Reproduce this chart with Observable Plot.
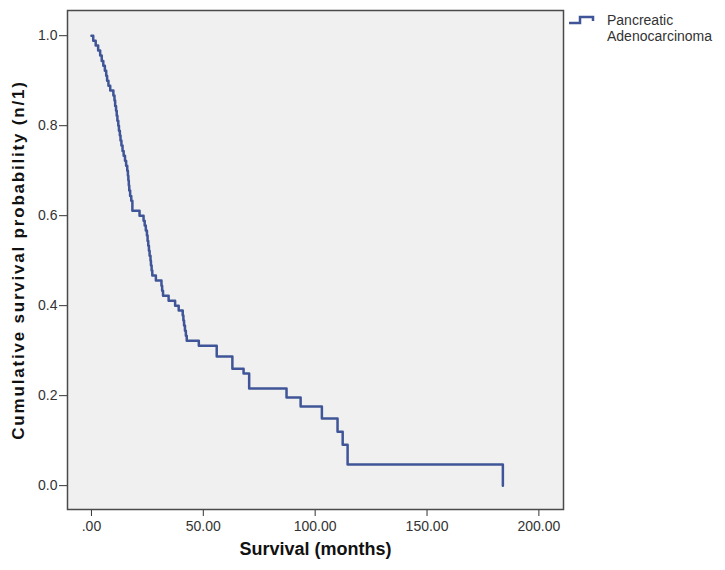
<!DOCTYPE html>
<html>
<head>
<meta charset="utf-8">
<script src="https://cdn.jsdelivr.net/npm/d3@7"></script>
<script src="https://cdn.jsdelivr.net/npm/@observablehq/plot@0.6"></script>
<style>
  html, body { margin: 0; padding: 0; background: #ffffff; }
  #wrap { position: relative; width: 725px; height: 570px; font-family: "Liberation Sans", Arial, sans-serif; }
  #legend { position: absolute; left: 566px; top: 8px; }
  #legend .txt { position: absolute; left: 41px; top: 4px; font-size: 14px; line-height: 16px; color: #333; white-space: nowrap; }
</style>
</head>
<body>
<div id="wrap">
  <div id="chart"></div>
  <div id="legend">
    <svg width="30" height="20" style="position:absolute;left:0;top:0">
      <path d="M3,15 H14 V9 H27 V13" fill="none" stroke="#3f5597" stroke-width="2.5"/>
    </svg>
    <div class="txt">Pancreatic<br>Adenocarcinoma</div>
  </div>
</div>
<script>
// Event times (months) and Kaplan-Meier survival after each event
const times = [0, 0.8, 1.9, 3.0, 3.9, 4.6, 5.3, 6.0, 6.6, 7.0, 7.6, 8.4, 9.8, 10.3, 10.6, 11.0, 11.3, 11.6, 12.0, 12.3, 12.7, 13.0, 13.4, 13.9, 14.4, 15.0, 15.5, 16.0, 16.3, 16.5, 16.7, 16.9, 17.3, 17.8, 18.3, 21.5, 23.3, 23.8, 24.3, 24.8, 25.1, 25.4, 25.7, 26.0, 26.4, 26.6, 26.9, 27.2, 28.8, 31.3, 31.6, 32.0, 34.5, 37.4, 39.0, 40.8, 41.1, 41.4, 41.8, 42.2, 42.6, 48.0, 56.0, 63.0, 68.0, 70.5, 87.2, 93.5, 103.0, 110.0, 112.3, 114.5, 183.9];
const survival = [1.0, 0.989, 0.978, 0.967, 0.956, 0.944, 0.933, 0.922, 0.911, 0.900, 0.889, 0.878, 0.867, 0.856, 0.844, 0.833, 0.822, 0.811, 0.800, 0.789, 0.778, 0.767, 0.756, 0.744, 0.733, 0.722, 0.711, 0.700, 0.689, 0.678, 0.667, 0.656, 0.644, 0.633, 0.611, 0.600, 0.589, 0.578, 0.567, 0.556, 0.544, 0.533, 0.522, 0.511, 0.500, 0.489, 0.478, 0.467, 0.456, 0.444, 0.433, 0.422, 0.411, 0.400, 0.389, 0.378, 0.367, 0.356, 0.344, 0.333, 0.322, 0.311, 0.287, 0.260, 0.249, 0.216, 0.196, 0.176, 0.149, 0.120, 0.091, 0.047, 0.0];
const xTicks = [0, 50, 100, 150, 200];
const xTickLabels = [".00", "50.00", "100.00", "150.00", "200.00"];
const yTicks = [0, 0.2, 0.4, 0.6, 0.8, 1.0];
const yTickLabels = ["0.0", "0.2", "0.4", "0.6", "0.8", "1.0"];
const seriesName = "Pancreatic Adenocarcinoma";
const xTitle = "Survival (months)";
const yTitle = "Cumulative survival probability (n/1)";

const points = times.map((t, i) => ({t, s: survival[i], series: seriesName}));

const chart = Plot.plot({
  width: 725,
  height: 570,
  marginLeft: 67,
  marginRight: 162,
  marginTop: 10,
  marginBottom: 61,
  style: {fontFamily: "'Liberation Sans', Arial, sans-serif", fontSize: "14px", color: "#333", background: "#ffffff"},
  x: {domain: [-10.7, 211], ticks: xTicks, tickFormat: d => xTickLabels[xTicks.indexOf(d)], tickSize: 7, tickPadding: 5, label: null},
  y: {domain: [-0.053, 1.056], ticks: yTicks, tickFormat: d => yTickLabels[yTicks.indexOf(d)], tickSize: 8, tickPadding: 2, label: null},
  marks: [
    Plot.frame({fill: "#f0f0f0", stroke: "#4a4a4a", strokeWidth: 1.5}),
    Plot.line(points, {x: "t", y: "s", curve: "step-after", stroke: "#3f5597", strokeWidth: 2.5}),
    Plot.text([xTitle], {frameAnchor: "bottom", dy: 45, fontSize: 18, fontWeight: "bold", fill: "#111"}),
    Plot.text([yTitle], {frameAnchor: "left", textAnchor: "middle", dx: -49, rotate: -90, fontSize: 17, fontWeight: "bold", fill: "#111", className: "ytitle"})
  ]
});
d3.select(chart).selectAll(".ytitle text").style("letter-spacing", "1.8px");
document.getElementById("chart").appendChild(chart);
</script>
</body>
</html>
